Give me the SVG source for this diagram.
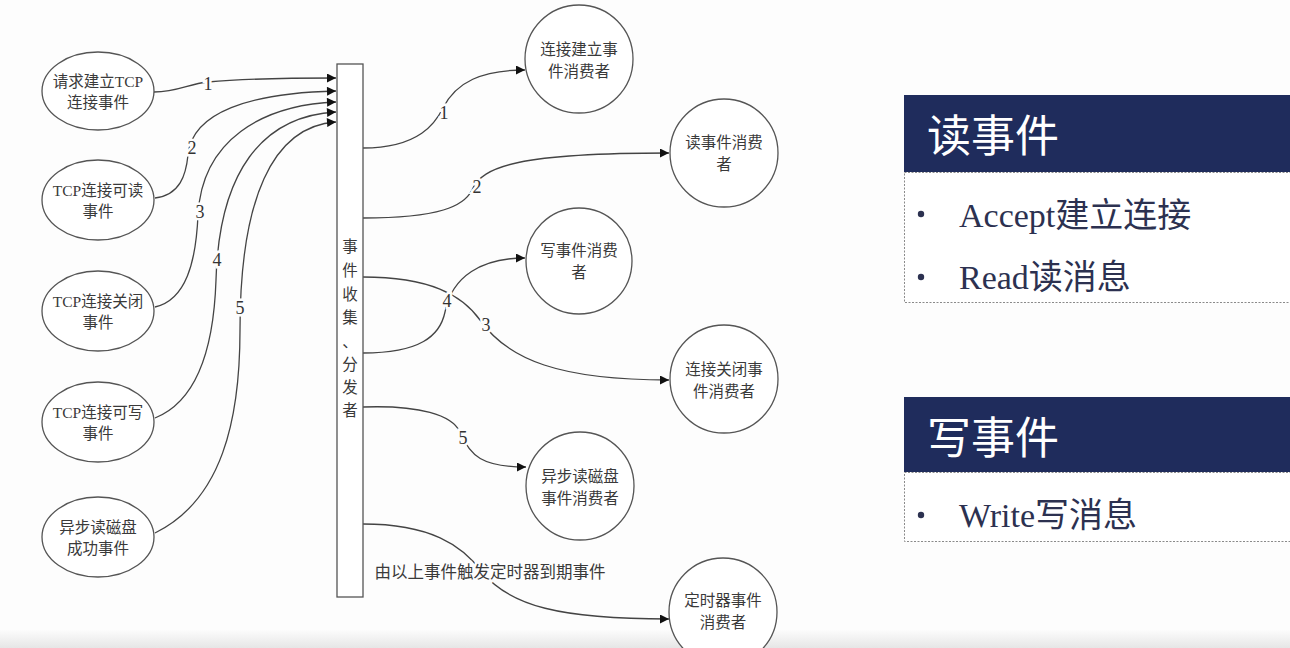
<svg xmlns="http://www.w3.org/2000/svg" width="1290" height="648" viewBox="0 0 1290 648">
  <defs>
    <marker id="arrow" viewBox="0 0 10 10" refX="10" refY="5" markerWidth="11" markerHeight="9" markerUnits="userSpaceOnUse" orient="auto">
      <path d="M0,0 L10,5 L0,10 z" fill="#111"/>
    </marker>
    <linearGradient id="footer" x1="0" y1="0" x2="0" y2="1">
      <stop offset="0" stop-color="#fcfcfc"/>
      <stop offset="1" stop-color="#e6e6e6"/>
    </linearGradient>
    <style>
      .node { fill: #ffffff; stroke: #555; stroke-width: 1.3; }
      .label { font-family: "Liberation Serif", "Noto Sans CJK SC", serif; font-size: 15.5px; fill: #3a3a3a; text-anchor: middle; }
      .edge { fill: none; stroke: #444; stroke-width: 1.3; }
      .num { font-family: "Liberation Serif", serif; font-size: 18px; fill: #333; text-anchor: middle; stroke: #fdfdfd; stroke-width: 5; paint-order: stroke; }
      .head { fill: #1f2c5c; }
      .title { font-family: "Noto Sans CJK SC", sans-serif; font-size: 44px; fill: #ffffff; }
      .panel { fill: #ffffff; stroke: #8a8a8a; stroke-width: 1; stroke-dasharray: 2 1.5; }
      .item { font-family: "Liberation Serif", "Noto Sans CJK SC", serif; font-size: 34px; fill: #2c3150; }
      .dot { fill: #2c3150; }
    </style>
  </defs>

  <rect width="1290" height="648" fill="#fdfdfd"/>
  <rect x="0" y="630" width="1290" height="18" fill="url(#footer)"/>

  <!-- connectors -->
  <g id="connectors">
    <!-- incoming events to the collector bar -->
    <path class="edge" marker-end="url(#arrow)" d="M154,92 C178,92 188,84 208,82 C240,79 290,78 336,78"/>
    <path class="edge" marker-end="url(#arrow)" d="M155,198 C180,195 186,175 188,155 C192,112 250,93 336,91"/>
    <path class="edge" marker-end="url(#arrow)" d="M155,307 C186,300 196,262 198,215 C202,140 262,105 336,102"/>
    <path class="edge" marker-end="url(#arrow)" d="M155,418 C200,400 214,340 216,280 C219,172 262,116 336,112"/>
    <path class="edge" marker-end="url(#arrow)" d="M155,533 C222,500 240,420 240,330 C240,200 272,126 336,122"/>
    <text class="num" x="208" y="90">1</text>
    <text class="num" x="192" y="154">2</text>
    <text class="num" x="200" y="218">3</text>
    <text class="num" x="217" y="266">4</text>
    <text class="num" x="240" y="314">5</text>

    <!-- dispatched events to the consumers -->
    <path class="edge" marker-end="url(#arrow)" d="M363,148 C420,148 436,122 443,108 C456,82 482,70 525,70"/>
    <path class="edge" marker-end="url(#arrow)" d="M363,218 C440,218 464,206 472,190 C482,166 520,153 669,153"/>
    <path class="edge" marker-end="url(#arrow)" d="M363,277 C430,277 462,295 480,320 C508,360 560,380 669,380"/>
    <path class="edge" marker-end="url(#arrow)" d="M363,353 C420,353 440,336 445,312 C452,276 482,258 525,258"/>
    <path class="edge" marker-end="url(#arrow)" d="M363,407 C420,405 452,415 460,432 C470,456 482,467 526,467"/>
    <path class="edge" marker-end="url(#arrow)" d="M363,524 C430,524 462,545 482,572 C510,606 560,619 669,619"/>
    <text class="num" x="444" y="119">1</text>
    <text class="num" x="477" y="193">2</text>
    <text class="num" x="486" y="331">3</text>
    <text class="num" x="447" y="307">4</text>
    <text class="num" x="463" y="444">5</text>
    <text class="label" x="490" y="578" style="font-size:16.5px;stroke:#fdfdfd;stroke-width:5;paint-order:stroke">由以上事件触发定时器到期事件</text>
  </g>

  <!-- event sources -->
  <g id="src-accept">
    <ellipse class="node" cx="98" cy="91" rx="56" ry="39"/>
    <text class="label" x="98" y="87">请求建立TCP</text>
    <text class="label" x="98" y="108">连接事件</text>
  </g>
  <g id="src-read">
    <ellipse class="node" cx="98" cy="200" rx="56" ry="40"/>
    <text class="label" x="98" y="196">TCP连接可读</text>
    <text class="label" x="98" y="217">事件</text>
  </g>
  <g id="src-close">
    <ellipse class="node" cx="98" cy="311" rx="56" ry="40"/>
    <text class="label" x="98" y="307">TCP连接关闭</text>
    <text class="label" x="98" y="328">事件</text>
  </g>
  <g id="src-write">
    <ellipse class="node" cx="98" cy="422" rx="56" ry="40"/>
    <text class="label" x="98" y="418">TCP连接可写</text>
    <text class="label" x="98" y="439">事件</text>
  </g>
  <g id="src-disk">
    <ellipse class="node" cx="98" cy="537" rx="56" ry="40"/>
    <text class="label" x="98" y="533">异步读磁盘</text>
    <text class="label" x="98" y="554">成功事件</text>
  </g>

  <!-- collector / dispatcher bar -->
  <g id="dispatcher">
    <rect class="node" x="337" y="64" width="26" height="533"/>
    <text class="label" x="350" y="252">事</text>
    <text class="label" x="350" y="276">件</text>
    <text class="label" x="350" y="300">收</text>
    <text class="label" x="350" y="323">集</text>
    <text class="label" x="350" y="347">、</text>
    <text class="label" x="350" y="370">分</text>
    <text class="label" x="350" y="393">发</text>
    <text class="label" x="350" y="416">者</text>
  </g>

  <!-- consumers -->
  <g id="dst-accept">
    <circle class="node" cx="579" cy="59" r="54"/>
    <text class="label" x="579" y="55">连接建立事</text>
    <text class="label" x="579" y="77">件消费者</text>
  </g>
  <g id="dst-read">
    <circle class="node" cx="724" cy="153" r="54"/>
    <text class="label" x="724" y="148">读事件消费</text>
    <text class="label" x="724" y="170">者</text>
  </g>
  <g id="dst-write">
    <circle class="node" cx="579" cy="261" r="53"/>
    <text class="label" x="579" y="256">写事件消费</text>
    <text class="label" x="579" y="278">者</text>
  </g>
  <g id="dst-close">
    <circle class="node" cx="724" cy="379" r="54"/>
    <text class="label" x="724" y="375">连接关闭事</text>
    <text class="label" x="724" y="397">件消费者</text>
  </g>
  <g id="dst-disk">
    <circle class="node" cx="580" cy="486" r="54"/>
    <text class="label" x="580" y="482">异步读磁盘</text>
    <text class="label" x="580" y="504">事件消费者</text>
  </g>
  <g id="dst-timer">
    <circle class="node" cx="723" cy="612" r="54"/>
    <text class="label" x="723" y="606">定时器事件</text>
    <text class="label" x="723" y="628">消费者</text>
  </g>

  <!-- read-event panel -->
  <g id="panel-read">
    <rect class="panel" x="904.5" y="172.5" width="400" height="130"/>
    <rect class="head" x="904" y="95" width="390" height="77"/>
    <text class="title" x="927" y="152">读事件</text>
    <circle class="dot" cx="921" cy="214" r="3.2"/>
    <text class="item" x="959" y="227">Accept建立连接</text>
    <circle class="dot" cx="921" cy="277" r="3.2"/>
    <text class="item" x="959" y="289">Read读消息</text>
  </g>

  <!-- write-event panel -->
  <g id="panel-write">
    <rect class="panel" x="904.5" y="472.5" width="400" height="69"/>
    <rect class="head" x="904" y="397" width="390" height="75"/>
    <text class="title" x="927" y="454">写事件</text>
    <circle class="dot" cx="921" cy="515" r="3.2"/>
    <text class="item" x="959" y="527">Write写消息</text>
  </g>
</svg>
